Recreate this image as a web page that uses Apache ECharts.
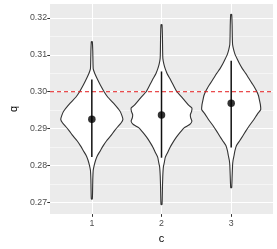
<!DOCTYPE html>
<html><head><meta charset="utf-8">
<script src="https://cdn.jsdelivr.net/npm/echarts@6/dist/echarts.min.js"></script>
<style>html,body{margin:0;padding:0;background:#fff}#c{width:277px;height:249px}</style>
</head><body><div id="c"></div>
<script>
const categories = ['1', '2', '3'];
const yTicks = [0.27, 0.28, 0.29, 0.30, 0.31, 0.32];
const yMinorTicks = [0.275, 0.285, 0.295, 0.305, 0.315];
const refLine = 0.30;
const means = [0.2925, 0.2937, 0.2969];
const sdLow = [0.2823, 0.2821, 0.2849];
const sdHigh = [0.3033, 0.3055, 0.3084];

// violin profiles: q values and half-widths (in category units)
const v1Y = [0.3136,0.3110,0.3085,0.3062,0.3050,0.3035,0.3018,0.3000,0.2985,0.2969,0.2947,0.2935,0.2925,0.2915,0.2905,0.2894,0.2880,0.2867,0.2853,0.2840,0.2827,0.2814,0.2800,0.2787,0.2761,0.2735,0.2709];
const v1W = [0.007,0.0135,0.016,0.020,0.041,0.077,0.122,0.176,0.230,0.311,0.405,0.432,0.446,0.419,0.372,0.324,0.270,0.212,0.162,0.122,0.081,0.054,0.034,0.020,0.0135,0.011,0.007];
const v2Y = [0.3182,0.3150,0.3110,0.3089,0.3075,0.3062,0.3049,0.3035,0.3018,0.3000,0.2987,0.2973,0.2963,0.2956,0.2947,0.2938,0.2929,0.2920,0.2911,0.2902,0.2889,0.2876,0.2862,0.2849,0.2835,0.2822,0.2809,0.2796,0.2770,0.2740,0.2715,0.2694];
const v2W = [0.007,0.0135,0.016,0.020,0.034,0.054,0.081,0.122,0.169,0.220,0.284,0.346,0.392,0.436,0.432,0.414,0.419,0.436,0.405,0.324,0.264,0.211,0.162,0.122,0.088,0.054,0.041,0.027,0.018,0.0135,0.011,0.007];
const v3Y = [0.3210,0.3180,0.3150,0.3128,0.3115,0.3102,0.3088,0.3075,0.3062,0.3049,0.3035,0.3022,0.3011,0.3000,0.2989,0.2978,0.2965,0.2951,0.2940,0.2924,0.2907,0.2893,0.2880,0.2867,0.2854,0.2840,0.2827,0.2814,0.2801,0.2770,0.2740];
const v3W = [0.007,0.0135,0.016,0.020,0.034,0.054,0.088,0.122,0.162,0.211,0.257,0.301,0.338,0.369,0.392,0.405,0.419,0.423,0.378,0.324,0.257,0.209,0.166,0.122,0.076,0.054,0.041,0.027,0.020,0.0135,0.007];

const violinY = [v1Y, v2Y, v3Y];
const violinW = [v1W, v2W, v3W];
const xPos = categories.map(c => Number(c));

const chart = echarts.init(document.getElementById('c'), null, {renderer: 'canvas'});
const font = 'Liberation Sans, Arial, sans-serif';

chart.setOption({
  animation: false,
  grid: {left: 36, right: 4, top: 4, bottom: 31, show: true, backgroundColor: '#EBEBEB', borderWidth: 0, containLabel: false},
  xAxis: {
    type: 'value', min: 0.4, max: 3.6,
    name: 'c', nameLocation: 'middle', nameGap: 16,
    nameTextStyle: {fontFamily: font, fontSize: 11, color: '#000'},
    axisLine: {show: false},
    axisTick: {show: true, length: 2.75, customValues: xPos, lineStyle: {color: '#333', width: 1}},
    axisLabel: {customValues: xPos, formatter: v => categories[Math.round(v) - 1], color: '#4D4D4D', fontFamily: font, fontSize: 8.8, margin: 5},
    splitLine: {show: true, lineStyle: {color: '#fff', width: 1}}
  },
  yAxis: [{
    type: 'value', min: 0.2668, max: 0.3238,
    name: 'q', nameLocation: 'middle', nameGap: 24, nameRotate: 90,
    nameTextStyle: {fontFamily: font, fontSize: 11, color: '#000'},
    axisLine: {show: false},
    axisTick: {show: true, length: 2.75, customValues: yTicks, lineStyle: {color: '#333', width: 1}},
    axisLabel: {customValues: yTicks, formatter: v => v.toFixed(2), color: '#4D4D4D', fontFamily: font, fontSize: 8.8, margin: 3},
    splitLine: {show: true, lineStyle: {color: '#fff', width: 1}}
  }, {
    type: 'value', min: 0.2668, max: 0.3238, position: 'left',
    axisLine: {show: false},
    axisTick: {show: false, customValues: yMinorTicks},
    axisLabel: {show: false, customValues: yMinorTicks},
    splitLine: {show: true, lineStyle: {color: '#fff', width: 0.5}}
  }],
  series: [
    {
      type: 'custom', z: 2,
      data: xPos.map((x, i) => [x, means[i]]),
      renderItem: (params, api) => {
        const i = params.dataIndex;
        const x = api.value(0);
        const ys = violinY[i], ws = violinW[i];
        const pts = [];
        for (let k = 0; k < ys.length; k++) pts.push(api.coord([x - ws[k], ys[k]]));
        for (let k = ys.length - 1; k >= 0; k--) pts.push(api.coord([x + ws[k], ys[k]]));
        return {type: 'polygon', shape: {points: pts, smooth: 0.15}, style: {fill: '#fff', stroke: '#333', lineWidth: 1.1}};
      }
    },
    {
      type: 'custom', z: 3,
      data: [[0.4, refLine, 3.6]],
      renderItem: (params, api) => {
        const a = api.coord([api.value(0), api.value(1)]);
        const b = api.coord([api.value(2), api.value(1)]);
        return {type: 'line', shape: {x1: a[0], y1: a[1], x2: b[0], y2: b[1]}, style: {stroke: '#e41a1c', lineWidth: 1, lineDash: [4, 3]}};
      }
    },
    {
      type: 'custom', z: 4,
      data: xPos.map((x, i) => [x, sdLow[i], sdHigh[i]]),
      renderItem: (params, api) => {
        const a = api.coord([api.value(0), api.value(1)]);
        const b = api.coord([api.value(0), api.value(2)]);
        return {type: 'line', shape: {x1: a[0], y1: a[1], x2: b[0], y2: b[1]}, style: {stroke: '#111', lineWidth: 1.5}};
      }
    },
    {
      type: 'scatter', z: 5, symbol: 'circle', symbolSize: 7.5,
      itemStyle: {color: '#000'},
      data: xPos.map((x, i) => [x, means[i]])
    }
  ]
});
</script></body></html>
